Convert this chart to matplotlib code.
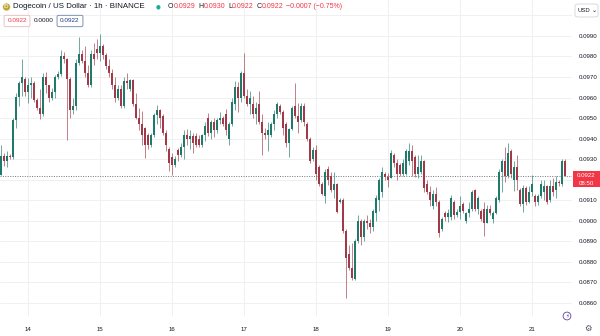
import matplotlib
matplotlib.use("Agg")
import numpy as np
import matplotlib.pyplot as plt
from matplotlib.patches import Rectangle, FancyBboxPatch
from matplotlib.transforms import blended_transform_factory

plt.rcParams["font.family"] = ["Liberation Sans", "DejaVu Sans"]

# DOGE/USD 1h candles, prices in units of 0.00001 USD
opens = [
    9223, 9315, 9290, 9315, 9310, 9490, 9605, 9670, 9690, 9625, 9660, 9670, 9590, 9550, 9520, 9700,
    9660, 9600, 9625, 9700, 9715, 9800, 9790, 9690, 9540, 9560, 9770, 9810, 9780, 9720, 9660, 9810,
    9835, 9815, 9850, 9805, 9755, 9720, 9660, 9600, 9640, 9560, 9680, 9640, 9685, 9570, 9500, 9470,
    9450, 9420, 9370, 9420, 9515, 9540, 9510, 9430, 9350, 9310, 9270, 9345, 9320, 9360, 9420, 9400,
    9415, 9415, 9400, 9370, 9420, 9500, 9430, 9480, 9440, 9490, 9500, 9520, 9400, 9470, 9570, 9650,
    9600, 9720, 9610, 9570, 9570, 9520, 9570, 9480, 9430, 9420, 9420, 9470, 9520, 9560, 9530, 9470,
    9380, 9445, 9560, 9510, 9490, 9560, 9470, 9400, 9300, 9345, 9260, 9180, 9120, 9250, 9220, 9150,
    9180, 9090, 9100, 8950, 8840, 8770, 8715, 8900, 9000, 8920, 9000, 8990, 8970, 9040, 9100, 9140,
    9230, 9215, 9210, 9320, 9280, 9270, 9230, 9230, 9290, 9340, 9310, 9230, 9240, 9290, 9180, 9140,
    9070, 9130, 9090, 8960, 9040, 9020, 9020, 9090, 9030, 9045, 9080, 9000, 9040, 9060, 9150, 9060,
    9050, 9060, 8990, 9060, 9010, 9040, 9100, 9240, 9290, 9220, 9340, 9200, 9260, 9150, 9080, 9160,
    9090, 9140, 9120, 9090, 9120, 9140, 9170, 9100, 9170, 9150, 9190, 9180, 9290,
]
highs = [
    9369, 9330, 9340, 9325, 9500, 9620, 9680, 9790, 9700, 9695, 9700, 9680, 9600, 9640, 9720, 9725,
    9660, 9645, 9710, 9730, 9830, 9820, 9795, 9700, 9600, 9790, 9895, 9830, 9850, 9760, 9830, 9865,
    9885, 9910, 9860, 9815, 9790, 9740, 9700, 9660, 9660, 9700, 9720, 9690, 9690, 9620, 9550, 9535,
    9455, 9430, 9430, 9525, 9565, 9545, 9520, 9440, 9360, 9330, 9315, 9355, 9380, 9440, 9445, 9440,
    9430, 9430, 9420, 9425, 9480, 9525, 9490, 9500, 9500, 9530, 9510, 9545, 9480, 9600, 9680, 9675,
    9730, 9815, 9640, 9630, 9610, 9580, 9630, 9520, 9450, 9480, 9480, 9540, 9580, 9570, 9540, 9480,
    9450, 9560, 9670, 9575, 9575, 9575, 9480, 9410, 9360, 9370, 9270, 9190, 9250, 9265, 9240, 9240,
    9185, 9110, 9110, 8960, 8880, 8890, 8910, 9030, 9010, 9010, 9030, 9010, 9060, 9125, 9210, 9260,
    9240, 9235, 9345, 9330, 9300, 9280, 9300, 9350, 9380, 9370, 9320, 9320, 9320, 9295, 9200, 9170,
    9150, 9165, 9100, 9020, 9050, 9060, 9125, 9100, 9060, 9120, 9090, 9045, 9090, 9150, 9155, 9120,
    9060, 9090, 9075, 9075, 9050, 9120, 9250, 9300, 9360, 9380, 9350, 9290, 9320, 9160, 9175, 9170,
    9170, 9225, 9130, 9130, 9200, 9200, 9175, 9200, 9210, 9220, 9200, 9300, 9300,
]
lows = [
    9223, 9265, 9260, 9300, 9300, 9450, 9560, 9610, 9610, 9575, 9600, 9580, 9540, 9495, 9510, 9620,
    9580, 9590, 9600, 9690, 9705, 9770, 9395, 9500, 9520, 9540, 9760, 9770, 9700, 9650, 9650, 9760,
    9790, 9780, 9790, 9740, 9700, 9640, 9580, 9590, 9550, 9550, 9640, 9630, 9560, 9495, 9440, 9370,
    9305, 9350, 9360, 9410, 9470, 9450, 9420, 9340, 9245, 9225, 9260, 9290, 9310, 9300, 9370, 9350,
    9330, 9360, 9360, 9360, 9390, 9415, 9400, 9410, 9430, 9470, 9460, 9420, 9370, 9460, 9540, 9530,
    9580, 9600, 9560, 9520, 9500, 9470, 9470, 9320, 9400, 9340, 9410, 9440, 9500, 9520, 9420, 9360,
    9310, 9440, 9500, 9430, 9480, 9460, 9390, 9280, 9290, 9200, 9170, 9125, 9085, 9175, 9140, 9110,
    9040, 9085, 8940, 8624, 8760, 8710, 8710, 8890, 8880, 8900, 8960, 8940, 8950, 9000, 9050, 9115,
    9200, 9165, 9210, 9260, 9200, 9220, 9220, 9225, 9270, 9220, 9215, 9210, 9230, 9140, 9130, 9070,
    9060, 9070, 8920, 8950, 9000, 8995, 9005, 9010, 9020, 9010, 9040, 8990, 9020, 9050, 9050, 9035,
    9000, 8925, 8990, 9030, 8990, 9035, 9090, 9140, 9190, 9210, 9210, 9145, 9150, 9070, 9045, 9075,
    9085, 9120, 9070, 9075, 9110, 9100, 9080, 9090, 9120, 9110, 9170, 9170, 9220,
]
closes = [
    9315, 9290, 9315, 9310, 9490, 9605, 9670, 9700, 9625, 9660, 9670, 9590, 9550, 9520, 9700, 9660,
    9600, 9625, 9700, 9715, 9800, 9790, 9690, 9540, 9560, 9770, 9810, 9780, 9720, 9660, 9810, 9790,
    9815, 9850, 9805, 9755, 9720, 9660, 9600, 9640, 9560, 9680, 9670, 9685, 9570, 9500, 9470, 9420,
    9370, 9370, 9420, 9515, 9540, 9500, 9430, 9370, 9280, 9270, 9300, 9320, 9360, 9420, 9400, 9415,
    9380, 9370, 9370, 9420, 9460, 9430, 9480, 9440, 9490, 9500, 9470, 9440, 9470, 9580, 9650, 9600,
    9720, 9610, 9570, 9600, 9520, 9550, 9480, 9430, 9420, 9440, 9470, 9520, 9570, 9530, 9450, 9380,
    9445, 9550, 9510, 9480, 9560, 9480, 9400, 9290, 9345, 9230, 9180, 9130, 9240, 9200, 9150, 9180,
    9045, 9100, 8950, 8820, 8770, 8720, 8900, 9000, 8920, 9000, 8990, 8970, 9050, 9110, 9200, 9240,
    9215, 9200, 9330, 9280, 9230, 9230, 9280, 9340, 9340, 9290, 9230, 9260, 9290, 9160, 9140, 9100,
    9130, 9090, 8940, 9010, 9020, 9040, 9110, 9030, 9045, 9070, 9050, 9040, 9060, 9140, 9060, 9110,
    9010, 8990, 9060, 9040, 9040, 9110, 9240, 9290, 9220, 9330, 9230, 9260, 9200, 9080, 9160, 9090,
    9140, 9180, 9090, 9120, 9180, 9170, 9090, 9170, 9140, 9190, 9185, 9290, 9220,
]

first_hour = 15  # first candle opens at 15:00 on the 13th
day_labels = ["14", "15", "16", "17", "18", "19", "20", "21"]
price_levels = [0.0860, 0.0870, 0.0880, 0.0890, 0.0900, 0.0910, 0.0920, 0.0930,
                0.0940, 0.0950, 0.0960, 0.0970, 0.0980, 0.0990, 0.1000]
last_price = 0.0922
countdown = "08:50"
ohlc_header = [("O", "0.0929"), ("H", "0.0930"), ("L", "0.0922"), ("C", "0.0922")]
change_text = "\u22120.0007 (\u22120.75%)"

UP = "#1f7a6b"
DOWN = "#a13a48"
TEXT = "#131722"
RED = "#f23645"

o = np.array(opens) / 1e5
h = np.array(highs) / 1e5
l = np.array(lows) / 1e5
c = np.array(closes) / 1e5
idx = np.arange(len(c))
colors = np.where(c >= o, UP, DOWN)

fig = plt.figure(figsize=(6, 3.36), dpi=100)
W, H = 600, 336
ax = fig.add_axes([0, 20 / H, 572 / W, 316 / H])

ax.vlines(idx, l, h, colors=colors, linewidth=0.6, alpha=0.75, zorder=3)
body = np.maximum(np.abs(c - o), 0.00002)
ax.bar(idx, body, bottom=np.minimum(o, c), width=0.6, color=colors, linewidth=0, zorder=3)

ax.set_xlim(-1 / 3, 571 / 3)
ax.set_ylim(0.085368, 0.10075)

day_ticks = [i for i in idx if (first_hour + i) % 24 == 0]
ax.set_xticks(day_ticks)
ax.set_xticklabels(day_labels)
ax.set_yticks(price_levels)
# the level under the last-price tag carries no label
ax.set_yticklabels(["" if abs(p - 0.0920) < 1e-9 else f"{p:.4f}" for p in price_levels])
ax.yaxis.tick_right()
ax.tick_params(axis="both", length=0, labelsize=4.4, colors=TEXT)
ax.tick_params(axis="y", pad=5)
ax.tick_params(axis="x", pad=8)
for s in ax.spines.values():
    s.set_visible(False)
ax.grid(True, color="#eeeeee", linewidth=0.6, zorder=0)
ax.set_axisbelow(True)

# last price line and its tag on the price scale
ax.axhline(last_price, color="#6f7480", linewidth=0.7, linestyle=(0, (1, 1.5)), zorder=2)
px = 0.001 / 20.54
blend = blended_transform_factory(fig.transFigure, ax.transData)
fig.add_artist(Rectangle((573 / W, last_price - 11.5 * px), 27 / W, 16 * px,
                         transform=blend, facecolor=RED, edgecolor="none", zorder=10))
fig.text(586.5 / W, last_price, f"{last_price:.4f}", transform=blend, color="white",
         fontsize=4.4, ha="center", va="center", zorder=11)
fig.text(586.5 / W, last_price - 7.5 * px, countdown, transform=blend, color="white",
         fontsize=4.4, ha="center", va="center", zorder=11)

# currency button
fig.add_artist(FancyBboxPatch((575 / W, 1 - 17 / H), 23 / W, 13 / H,
                              boxstyle="round,pad=0,rounding_size=0.006",
                              transform=fig.transFigure, facecolor="white",
                              edgecolor="#d1d4dc", linewidth=0.6, zorder=10))
fig.text(578 / W, 1 - 10.5 / H, "USD", fontsize=4.2, color=TEXT, va="center", zorder=11)
fig.text(592 / W, 1 - 10.5 / H, "\u2304", fontsize=4.5, color=TEXT, va="center", zorder=11,
         family=["DejaVu Sans"])

# bottom-right icons
fig.text(567 / W, 1 - 316 / H, "\u26a1", fontsize=4, color="#5b3fa0", ha="center", va="center",
         family=["DejaVu Sans"],
         bbox=dict(boxstyle="circle,pad=0.25", facecolor="white", edgecolor="#5b3fa0", linewidth=0.6))
fig.text(588 / W, 1 - 328 / H, "\u2699", fontsize=6, color="#4a4e5a", ha="center", va="center",
         family=["DejaVu Sans"])

# legend header
renderer = fig.canvas.get_renderer()


def put_run(x, y, parts, size, gap=0.0):
    for s, col in parts:
        t = fig.text(x, y, s, color=col, fontsize=size, va="center")
        x += t.get_window_extent(renderer=renderer).width / W + gap
    return x


fig.text(6.5 / W, 1 - 7 / H, "\u00d0", fontsize=4.2, color="white", ha="center", va="center",
         family=["DejaVu Sans"],
         bbox=dict(boxstyle="circle,pad=0.2", facecolor="#c2a633", edgecolor="none"))
fig.text(13 / W, 1 - 7 / H, "Dogecoin / US Dollar \u00b7 1h \u00b7 BINANCE", fontsize=5.7,
         color=TEXT, va="center")
fig.text(158 / W, 1 - 7 / H, "\u25cf", fontsize=4, color="#22ab94", ha="center", va="center",
         family=["DejaVu Sans"])
x = 168 / W
for k, v in ohlc_header:
    x = put_run(x, 1 - 7 / H, [(k, TEXT), (v, RED)], 5.0) + 3 / W
put_run(x, 1 - 7 / H, [(change_text, RED)], 5.0)

# value boxes under the header
fig.text(17 / W, 1 - 21 / H, f"{last_price:.4f}", fontsize=4.6, color=RED, ha="center", va="center",
         bbox=dict(boxstyle="round,pad=0.5,rounding_size=0.25", facecolor="white",
                   edgecolor="#e6b8be", linewidth=0.6))
fig.text(44 / W, 1 - 21 / H, "0.0000", fontsize=4.6, color=TEXT, ha="center", va="center")
fig.text(70 / W, 1 - 21 / H, f"{last_price:.4f}", fontsize=4.6, color="#1e3a8a", ha="center",
         va="center",
         bbox=dict(boxstyle="round,pad=0.5,rounding_size=0.25", facecolor="white",
                   edgecolor="#6a7fa8", linewidth=0.6))

fig.savefig("out.png", dpi=100, facecolor="white")
